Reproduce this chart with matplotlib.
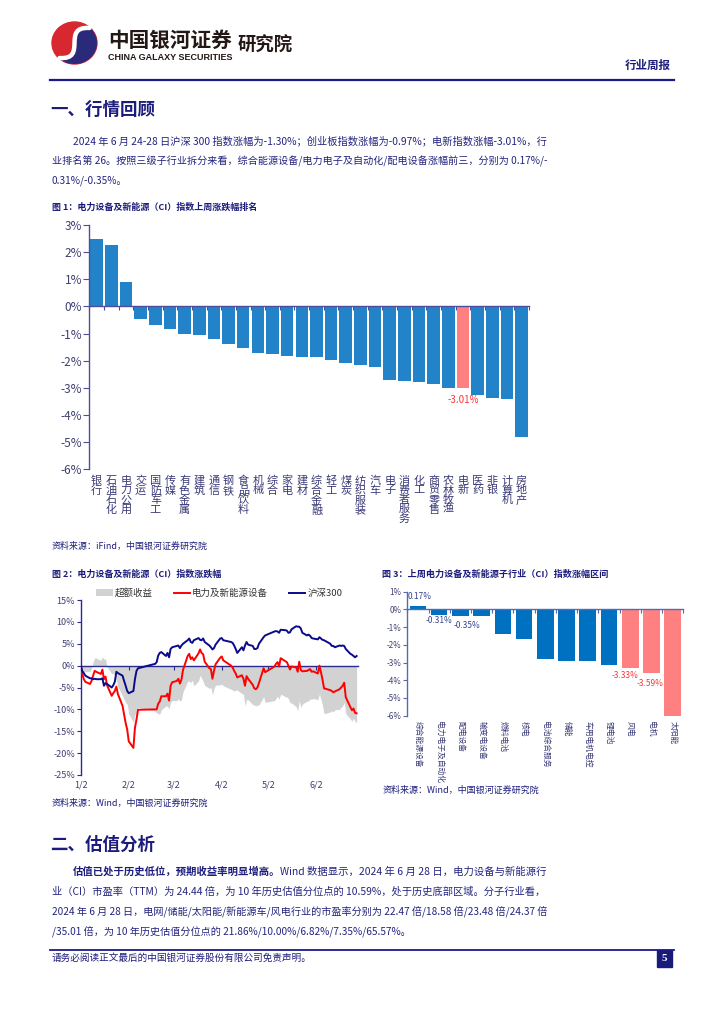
import datetime as dt
import numpy as np
import matplotlib
matplotlib.use('Agg')
import matplotlib.pyplot as plt
import matplotlib.dates as mdates
import matplotlib.transforms as mtrans
from matplotlib.ticker import FuncFormatter
from matplotlib.patches import Rectangle, Patch, Ellipse, PathPatch
from matplotlib.path import Path
from matplotlib.lines import Line2D

plt.rcParams['font.family'] = ['Noto Sans CJK SC', 'DejaVu Sans']
plt.rcParams['axes.unicode_minus'] = False

# ---------------- data ----------------
# Figure 1: weekly change by industry (%)
cats1 = ['银行', '石油石化', '电力公用', '交运', '国防军工', '传媒', '有色金属', '建筑', '通信', '钢铁',
         '食品饮料', '机械', '综合', '家电', '建材', '综合金融', '轻工', '煤炭', '纺织服装', '汽车',
         '电子', '消费者服务', '化工', '商贸零售', '农林牧渔', '电新', '医药', '非银', '计算机', '房地产']
vals1 = [2.48, 2.25, 0.90, -0.48, -0.68, -0.84, -1.01, -1.07, -1.20, -1.39,
         -1.52, -1.72, -1.77, -1.82, -1.86, -1.88, -1.99, -2.08, -2.17, -2.24,
         -2.71, -2.73, -2.78, -2.85, -3.00, -3.01, -3.27, -3.37, -3.42, -4.80]
highlight1 = '电新'

# Figure 2: cumulative change since 2024-01-02 (%)
trade_days = {
    1: [2, 3, 4, 5, 8, 9, 10, 11, 12, 15, 16, 17, 18, 19, 22, 23, 24, 25, 26, 29, 30, 31],
    2: [1, 2, 5, 6, 7, 8, 19, 20, 21, 22, 23, 26, 27, 28, 29],
    3: [1, 4, 5, 6, 7, 8, 11, 12, 13, 14, 15, 18, 19, 20, 21, 22, 25, 26, 27, 28, 29],
    4: [1, 2, 3, 8, 9, 10, 11, 12, 15, 16, 17, 18, 19, 22, 23, 24, 25, 26, 29, 30],
    5: [6, 7, 8, 9, 10, 13, 14, 15, 16, 17, 20, 21, 22, 23, 24, 27, 28, 29, 30, 31],
    6: [3, 4, 5, 6, 7, 11, 12, 13, 14, 17, 18, 19, 20, 21, 24, 25, 26, 27, 28],
}
hs300 = [0.0, -1.2, -1.7, -2.3, -2.9, -2.9, -3.1, -3.0, -3.1, -3.1, -2.9, -4.6, -4.0, -4.2, -5.0, -4.5, -3.7, -1.4, -1.7, -2.3, -3.5, -4.6,
         -5.8, -6.3, -5.8, -3.1, -1.2, -0.6, 0.4, 0.8, 2.3, 2.9, 3.1, 2.2, 2.9, 1.9, 3.8,
         4.2, 4.5, 4.6, 4.0, 4.6, 5.0, 5.8, 6.2, 5.4, 5.2, 5.8, 6.3, 5.9, 5.8, 6.2, 5.4, 4.6, 4.2, 3.7, 4.0, 4.8,
         6.2, 6.3, 5.8, 5.4, 5.2, 4.6, 3.8, 2.9, 4.2, 3.5, 4.6, 5.4, 4.8, 4.5, 3.8, 3.8, 4.0, 5.0, 6.5, 6.9,
         7.8, 7.9, 7.8, 7.5, 8.2, 8.1, 8.0, 7.5, 7.6, 8.3, 9.0, 8.9, 8.9, 8.5, 7.5, 6.9, 7.1, 6.8, 6.3, 6.2,
         6.0, 6.5, 6.2, 5.9, 5.8, 5.0, 4.5, 4.5, 4.2, 4.6, 4.5, 4.6, 4.5, 3.8, 2.7, 2.5, 2.2, 1.9, 2.2]
power = [0.0, -1.9, -3.1, -3.7, -4.2, -3.5, -2.3, -1.2, -1.4, -1.9, -0.9, -3.1, -2.5, -4.5, -6.9, -6.3, -5.8, -4.8, -6.5, -9.2, -11.2, -13.1,
         -14.6, -17.3, -18.8, -14.2, -12.3, -10.1, -10.0, -10.0, -8.7, -8.2, -7.0, -7.0, -6.4, -8.0, -4.6,
         -3.8, -3.5, -3.0, -4.1, -3.2, -1.0, 2.2, 2.7, 1.5, 1.9, 1.2, 2.8, 3.7, 2.9, 2.6, 0.9, -0.6, -0.8, -3.0, -1.2, 0.3,
         1.8, 2.1, 1.2, 0.0, -0.4, -1.2, -1.8, -2.7, -2.2, -3.0, -4.6, -2.4, -3.0, -4.4, -5.2, -5.4, -5.0, -4.0, -0.6, -1.5,
         -0.2, 0.4, 0.8, -0.2, 1.7, 1.0, 0.8, 0.0, -0.9, -0.2, -0.4, -1.4, 0.9, -1.0, -1.3, -1.2, -1.0, -0.8, -1.4, -1.3,
         -1.8, 0.0, -1.5, -3.2, -5.2, -5.6, -5.8, -6.1, -5.9, -5.4, -5.0, -4.6, -3.9, -7.2, -9.5, -10.2, -9.8, -10.8, -10.9]
series2_names = ['超额收益', '电力及新能源设备', '沪深300']
month_ticks = ['1/2', '2/2', '3/2', '4/2', '5/2', '6/2']

# Figure 3: sub-industry weekly change (%)
cats3 = ['综合能源设备', '电力电子及自动化', '配电设备', '输变电设备', '燃料电池', '核电', '电池综合服务',
         '储能', '车用电机电控', '锂电池', '风电', '电机', '太阳能']
vals3 = [0.17, -0.31, -0.35, -0.39, -1.37, -1.67, -2.78, -2.91, -2.93, -3.13, -3.33, -3.59, -6.04]
red3 = ['风电', '电机', '太阳能']
labelled3 = ['综合能源设备', '电力电子及自动化', '配电设备', '风电', '电机']

# ---------------- page ----------------
W, H = 724, 1024
fig = plt.figure(figsize=(7.24, 10.24), dpi=100)
bg = fig.add_axes([0, 0, 1, 1])
bg.set_xlim(0, W)
bg.set_ylim(H, 0)
bg.axis('off')
renderer = fig.canvas.get_renderer()

NAVY = '#1c1c7c'
BODY = '#23247f'
TICKC = '#3f3f72'


def rect(x0, y0, x1, y1):
    return [x0 / W, 1 - y1 / H, (x1 - x0) / W, (y1 - y0) / H]


def put(x, y, s, size, right=None, **kw):
    t = bg.text(x, y, s, fontsize=size, ha='left', va='center', **kw)
    if right is not None:
        w = t.get_window_extent(renderer).width
        t.set_fontsize(size * (right - x) / w)
    return t


# logo: red disc, navy right part bounded by an S-curve, white S band
LCX, LCY, LR = 74.5, 43.0, 21.0
bg.add_patch(Ellipse((LCX, LCY), 2 * LR + 3, 2 * LR, color='#d7282f'))
s_verts = [(LCX + 15, LCY - 15), (LCX - 14, LCY - 17), (LCX + 14, LCY + 17), (LCX - 15, LCY + 15)]
ang = np.linspace(np.deg2rad(135), np.deg2rad(-45), 40)
arc = [(LCX + (LR + 1.5) * np.cos(a), LCY + LR * np.sin(a)) for a in ang]
navy_verts = s_verts + arc + [s_verts[0]]
navy_codes = [Path.MOVETO, Path.CURVE4, Path.CURVE4, Path.CURVE4] + [Path.LINETO] * len(arc) + [Path.CLOSEPOLY]
bg.add_patch(PathPatch(Path(navy_verts, navy_codes), facecolor='#2b2a7a', edgecolor='none'))
bg.add_patch(PathPatch(Path(s_verts, [Path.MOVETO, Path.CURVE4, Path.CURVE4, Path.CURVE4]),
                       facecolor='none', edgecolor='white', lw=3.2, capstyle='round'))
put(108, 40, '中国银河证券', 15, right=232, weight='bold', color='#231815')
put(108, 57.5, 'CHINA GALAXY SECURITIES', 6.5, right=232, weight='bold', color='#231815',
    family=['Liberation Sans', 'DejaVu Sans'])
put(238, 45, '研究院', 13, right=293, weight='bold', color='#231815')
put(625, 65, '行业周报', 8.5, right=671, weight='bold', color=NAVY)
bg.plot([50, 674], [80, 80], color='#1a1a8a', lw=1.6)

put(50, 110, '一、行情回顾', 12.5, right=155, weight='bold', color=NAVY)
t = put(73, 141, '2024 年 6 月 24-28 日沪深 300 指数涨幅为-1.30%；创业板指数涨幅为-0.97%；电新指数涨幅-3.01%，行',
        7.5, right=545, color=BODY)
t = put(52, 161, '业排名第 26。按照三级子行业拆分来看，综合能源设备/电力电子及自动化/配电设备涨幅前三，分别为 0.17%/-',
        7.5, right=545, color=BODY)
put(52, 181, '0.31%/-0.35%。', t.get_fontsize(), color=BODY)

# figure titles / sources
put(52, 207, '图 1：电力设备及新能源（CI）指数上周涨跌幅排名', 7, right=258, weight='bold', color=NAVY)
put(52, 546, '资料来源：iFind，中国银河证券研究院', 6.5, right=207, color=NAVY)
put(52, 574, '图 2：电力设备及新能源（CI）指数涨跌幅', 7, right=222, weight='bold', color=NAVY)
put(52, 803, '资料来源：Wind，中国银河证券研究院', 6.5, right=208, color=NAVY)
put(382, 574, '图 3：上周电力设备及新能源子行业（CI）指数涨幅区间', 7, right=608, weight='bold', color=NAVY)
put(383, 790, '资料来源：Wind，中国银河证券研究院', 6.5, right=540, color=NAVY)

# section 2
put(50, 845, '二、估值分析', 12.5, right=155, weight='bold', color=NAVY)
b = put(73, 872, '估值已处于历史低位，预期收益率明显增高。', 7.5, weight='bold', color=NAVY)
r = put(73, 872, 'Wind 数据显示，2024 年 6 月 28 日，电力设备与新能源行', 7.5, color=BODY)
wb = b.get_window_extent(renderer).width
wr = r.get_window_extent(renderer).width
f = (545 - 73) / (wb + wr)
b.set_fontsize(7.5 * f)
r.set_fontsize(7.5 * f)
r.set_x(73 + wb * f)
put(52, 892, '业（CI）市盈率（TTM）为 24.44 倍，为 10 年历史估值分位点的 10.59%，处于历史底部区域。分子行业看，',
    7.5, right=545, color=BODY)
t = put(52, 912, '2024 年 6 月 28 日，电网/储能/太阳能/新能源车/风电行业的市盈率分别为 22.47 倍/18.58 倍/23.48 倍/24.37 倍',
        7.5, right=547, color=BODY)
put(52, 932, '/35.01 倍，为 10 年历史估值分位点的 21.86%/10.00%/6.82%/7.35%/65.57%。', t.get_fontsize(), color=BODY)

# footer
bg.plot([50, 674], [950, 950], color='#1a1a8a', lw=1.3)
put(52, 958, '请务必阅读正文最后的中国银河证券股份有限公司免责声明。', 7, right=312, color=NAVY)
bg.add_patch(Rectangle((657, 950), 15, 17, color='#1a1a7a'))
bg.text(664.5, 958.5, '5', color='white', fontsize=8, weight='bold', ha='center', va='center',
        family=['Liberation Serif', 'DejaVu Serif'])

# ---------------- chart 1 ----------------
AX1 = '#4d4d9c'
ax1 = fig.add_axes(rect(89.3, 225, 529, 469.3))
x1 = np.arange(len(cats1))
col1 = ['#ff8080' if c == highlight1 else '#2283c8' for c in cats1]
ax1.bar(x1, vals1, width=0.86, color=col1, zorder=2)
ax1.set_xlim(-0.5, len(cats1) - 0.5)
ax1.set_ylim(-6, 3)
ax1.set_yticks(range(-6, 4))
ax1.yaxis.set_major_formatter(FuncFormatter(lambda v, p: f'{v:.0f}%'))
for s in ['top', 'right']:
    ax1.spines[s].set_visible(False)
ax1.spines['bottom'].set_position(('data', 0))
for s in ['bottom', 'left']:
    ax1.spines[s].set_color(AX1)
    ax1.spines[s].set_linewidth(1.0)
ax1.spines['bottom'].set_zorder(3)
ax1.set_xticks(np.arange(-0.5, len(cats1), 1))
ax1.set_xticklabels([])
ax1.tick_params(axis='x', direction='out', length=3, color=AX1)
ax1.tick_params(axis='y', direction='out', length=4, color=AX1, labelsize=8.5, labelcolor=TICKC, pad=1)
ax1.set_facecolor('none')
tr1 = mtrans.blended_transform_factory(ax1.transData, ax1.transAxes)
for i, c in enumerate(cats1):
    ax1.text(i, -0.026, '\n'.join(c), transform=tr1, ha='center', va='top', fontsize=8,
             linespacing=0.95, color='#3a3a78')
hi = cats1.index(highlight1)
ax1.annotate(f'{vals1[hi]:.2f}%', (hi, vals1[hi]), xytext=(0, -5), textcoords='offset points',
             ha='center', va='top', fontsize=7, color='#ff3333')

# ---------------- chart 2 ----------------
AX2 = '#2b2b8f'
dates = [dt.date(2024, m, d) for m in sorted(trade_days) for d in trade_days[m]]
excess = [p - h for p, h in zip(power, hs300)]
ax2 = fig.add_axes(rect(80.7, 600, 358, 775))
ax2.fill_between(dates, 0, excess, color='#d2d2d2', lw=0, zorder=1)
ax2.plot(dates, power, color='#ff0000', lw=1.4, zorder=3)
ax2.plot(dates, hs300, color='#0a0a8c', lw=1.4, zorder=3)
ax2.set_ylim(-25, 15)
ax2.set_xlim(mdates.date2num(dt.date(2024, 1, 2)), mdates.date2num(dt.date(2024, 6, 28)) + 0.9)
ax2.set_yticks(range(-25, 16, 5))
ax2.yaxis.set_major_formatter(FuncFormatter(lambda v, p: f'{v:.0f}%'))
for s in ['top', 'right']:
    ax2.spines[s].set_visible(False)
ax2.spines['bottom'].set_position(('data', 0))
for s in ['bottom', 'left']:
    ax2.spines[s].set_color(AX2)
    ax2.spines[s].set_linewidth(1.0)
ax2.spines['bottom'].set_zorder(2)
tick_dates = [dt.date(2024, int(s.split('/')[0]), int(s.split('/')[1])) for s in month_ticks]
ax2.set_xticks([mdates.date2num(d) for d in tick_dates])
ax2.set_xticklabels([])
ax2.tick_params(axis='x', direction='out', length=3, color=AX2)
ax2.tick_params(axis='y', direction='out', length=3, color=AX2, labelsize=6.5, labelcolor=TICKC, pad=1)
ax2.set_facecolor('none')
tr2 = mtrans.blended_transform_factory(ax2.transData, ax2.transAxes)
for d, s in zip(tick_dates, month_ticks):
    ax2.text(mdates.date2num(d), -0.057, s, transform=tr2, ha='center', va='center', fontsize=6.5, color=TICKC)
handles = [Patch(facecolor='#d2d2d2', edgecolor='none'),
           Line2D([], [], color='#ff0000', lw=1.4),
           Line2D([], [], color='#0a0a8c', lw=1.4)]
ax2.legend(handles, series2_names, loc='center', bbox_to_anchor=(0.5, 1.04), ncol=3, frameon=False,
           fontsize=6.8, handlelength=1.7, handletextpad=0.25, columnspacing=2.2, borderpad=0,
           labelcolor='#333333')

# ---------------- chart 3 ----------------
AX3 = '#5a68b0'
ax3 = fig.add_axes(rect(407.3, 591.7, 683.3, 715.7))
x3 = np.arange(len(cats3))
col3 = ['#ff8080' if c in red3 else '#0070c0' for c in cats3]
ax3.bar(x3, vals3, width=0.78, color=col3, zorder=2)
ax3.set_xlim(-0.45, len(cats3) - 0.5)
ax3.set_ylim(-6, 1)
ax3.set_yticks(range(-6, 2))
ax3.yaxis.set_major_formatter(FuncFormatter(lambda v, p: f'{v:.0f}%'))
for s in ['top', 'right']:
    ax3.spines[s].set_visible(False)
ax3.spines['bottom'].set_position(('data', 0))
for s in ['bottom', 'left']:
    ax3.spines[s].set_color(AX3)
    ax3.spines[s].set_linewidth(1.0)
ax3.spines['bottom'].set_zorder(3)
ax3.set_xticks(np.arange(-0.5, len(cats3), 1))
ax3.set_xticklabels([])
ax3.tick_params(axis='x', direction='out', length=3, color=AX3)
ax3.tick_params(axis='y', direction='out', length=3, color=AX3, labelsize=5.8, labelcolor=TICKC, pad=1)
ax3.set_facecolor('none')
tr3 = mtrans.blended_transform_factory(ax3.transData, ax3.transAxes)
for i, c in enumerate(cats3):
    ax3.text(i, -0.04, c, transform=tr3, ha='center', va='top', rotation=-90, fontsize=5.6,
             color='#3a3a78')
lab_off = {'综合能源设备': (1, 4), '电力电子及自动化': (0, -1), '配电设备': (5, -4),
           '风电': (-4, -2), '电机': (-1, -4)}
for c in labelled3:
    i = cats3.index(c)
    v = vals3[i]
    dx, dy = lab_off[c]
    ax3.annotate(f'{v:.2f}%', (i, v), xytext=(dx, dy), textcoords='offset points', ha='center',
                 va='bottom' if v > 0 else 'top', fontsize=6.0,
                 color='#ff3333' if c in red3 else '#35458f')

fig.savefig('out.png', dpi=100)
